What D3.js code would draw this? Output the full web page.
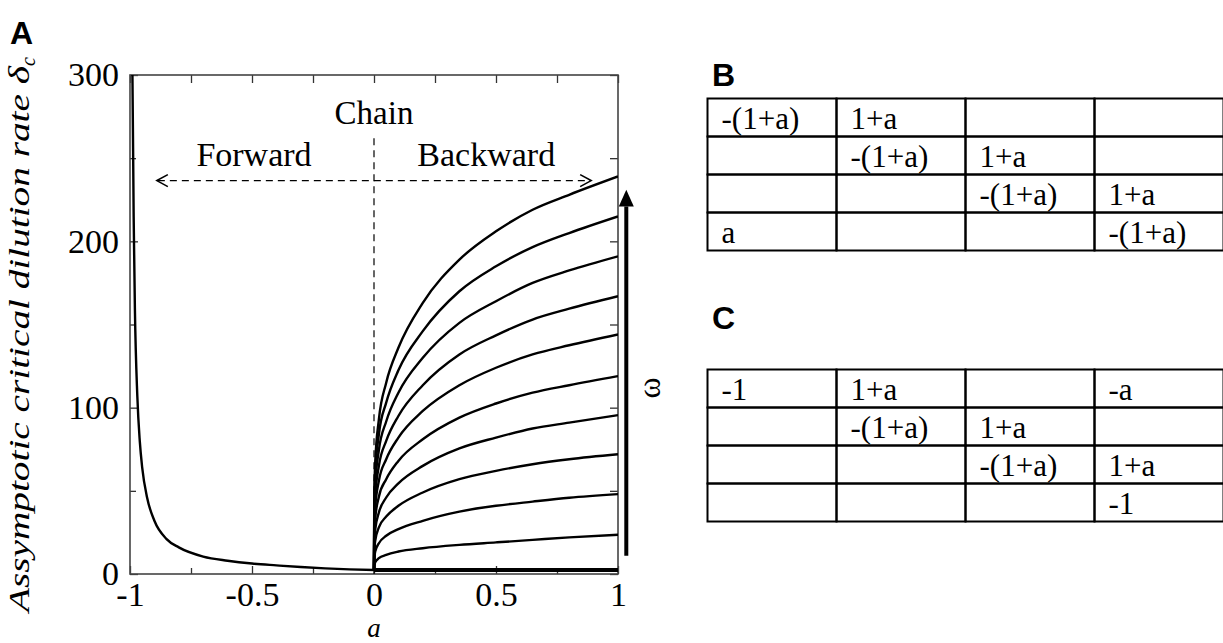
<!DOCTYPE html>
<html>
<head>
<meta charset="utf-8">
<script src="https://cdn.jsdelivr.net/npm/d3@7"></script>
<style>
  html, body { margin: 0; padding: 0; background: #fff; }
  svg { display: block; }
</style>
</head>
<body>
<svg id="fig" width="1223" height="643"></svg>
<script>
// Forward chain branch (a < 0)
const fwdA = [-0.995, -0.99, -0.985, -0.98, -0.97, -0.96, -0.95, -0.93, -0.9, -0.85, -0.8, -0.7, -0.6, -0.5, -0.4, -0.3, -0.2, -0.1, 0];
const fwdV = [330, 300, 215, 160, 107, 80, 64, 46, 32, 21, 16, 10.5, 8, 6.3, 5.2, 4.2, 3.4, 2.8, 2.4];

// Backward chain branch (a > 0), one curve per omega level
const backA = [0, 0.001, 0.005, 0.02, 0.05, 0.1, 0.2, 0.35, 0.5, 0.65, 0.8, 1.0];
const omega1  = [2, 5, 7, 9.5, 11.5, 13.5, 15.5, 17.5, 19, 20.5, 22, 23.6];
const omega2  = [2, 9, 13.5, 18.5, 23, 27, 32, 37.5, 41, 43.5, 45.8, 48];
const omega3  = [2, 13.7, 20, 28, 34.5, 41, 49, 57, 62, 66, 69, 72];
const omega4  = [2, 18, 26.7, 37, 46, 54.5, 65, 75.5, 82, 87.5, 91, 95.5];
const omega5  = [2, 22.6, 33.3, 46.5, 57, 68, 81, 94, 102.5, 109, 113.5, 119];
const omega6  = [2, 27.4, 40, 56, 69, 82, 98, 113.5, 124, 132, 137.5, 144];
const omega7  = [2, 31.7, 46.8, 65, 80, 95, 113.5, 132, 143.5, 153, 159.5, 167];
const omega8  = [2, 36.3, 53.5, 74.5, 91.7, 109, 130, 151, 164, 175, 182.5, 191];
const omega9  = [2, 40.8, 60, 84, 103, 122.5, 146, 170, 185, 196.5, 205, 215];
const omega10 = [2, 45, 67, 93, 115, 136, 163, 189, 206, 219, 228, 239];
const omegaSeries = [omega1, omega2, omega3, omega4, omega5, omega6, omega7, omega8, omega9, omega10];

// Lowest backward level
const baseA = [0, 1];
const baseV = [2.4, 2.4];

// Axis ticks
const xMajor = [-1, -0.5, 0, 0.5, 1];
const xMinor = [-0.75, -0.25, 0.25, 0.75];
const xLabels = ["-1", "-0.5", "0", "0.5", "1"];
const yMajor = [0, 100, 200, 300];
const yMinor = [50, 150, 250];
const yLabels = ["0", "100", "200", "300"];

// Jacobian tables
const tableB = [
  ["-(1+a)", "1+a", "", ""],
  ["", "-(1+a)", "1+a", ""],
  ["", "", "-(1+a)", "1+a"],
  ["a", "", "", "-(1+a)"]
];
const tableC = [
  ["-1", "1+a", "", "-a"],
  ["", "-(1+a)", "1+a", ""],
  ["", "", "-(1+a)", "1+a"],
  ["", "", "", "-1"]
];

const svg = d3.select("#fig");
const serif = "'Liberation Serif', 'Times New Roman', serif";
const sans = "'Liberation Sans', Arial, sans-serif";

const L = 130, R = 618, T = 75, B = 574;
const x = d3.scaleLinear().domain([-1, 1]).range([L, R]);
const y = d3.scaleLinear().domain([0, 300]).range([B, T]);

svg.append("defs").append("clipPath").attr("id", "plotclip")
  .append("rect").attr("x", L).attr("y", T).attr("width", R - L).attr("height", B - T);

// ---- axes: inward ticks on all four sides ----
function styleAxis(g) {
  g.select(".domain").remove();
  g.selectAll(".tick line").attr("stroke", "#333").attr("stroke-width", 1.3);
  g.selectAll("text").attr("font-family", serif).attr("font-size", 34).attr("fill", "#000");
}
const xBottom = svg.append("g").attr("transform", `translate(0,${B})`)
  .call(d3.axisBottom(x).tickValues(xMajor).tickSize(-8).tickPadding(8)
    .tickFormat((d, i) => xLabels[i]));
styleAxis(xBottom);
xBottom.selectAll("text").attr("dy", "0.71em");
svg.append("g").attr("transform", `translate(0,${B})`)
  .call(d3.axisBottom(x).tickValues(xMinor).tickSize(-6).tickFormat(""))
  .call(styleAxis);
svg.append("g").attr("transform", `translate(0,${T})`)
  .call(d3.axisTop(x).tickValues(xMajor.concat(xMinor)).tickSize(-8).tickFormat(""))
  .call(styleAxis);
const yLeft = svg.append("g").attr("transform", `translate(${L},0)`)
  .call(d3.axisLeft(y).tickValues(yMajor).tickSize(-8).tickPadding(11)
    .tickFormat((d, i) => yLabels[i]));
styleAxis(yLeft);
svg.append("g").attr("transform", `translate(${L},0)`)
  .call(d3.axisLeft(y).tickValues(yMinor).tickSize(-6).tickFormat(""))
  .call(styleAxis);
svg.append("g").attr("transform", `translate(${R},0)`)
  .call(d3.axisRight(y).tickValues(yMajor.concat(yMinor)).tickSize(-8).tickFormat(""))
  .call(styleAxis);

// frame
svg.append("rect").attr("x", L).attr("y", T).attr("width", R - L).attr("height", B - T)
  .attr("fill", "none").attr("stroke", "#444").attr("stroke-width", 1.6);

// ---- curves ----
const plot = svg.append("g").attr("clip-path", "url(#plotclip)");
const line = d3.line().x(d => x(d[0])).y(d => y(d[1])).curve(d3.curveMonotoneX);

plot.append("path").datum(fwdA.map((a, i) => [a, fwdV[i]]))
  .attr("d", line).attr("fill", "none").attr("stroke", "#000").attr("stroke-width", 2.4);

omegaSeries.forEach(vals => {
  plot.append("path").datum(backA.map((a, i) => [a, vals[i]]))
    .attr("d", line).attr("fill", "none").attr("stroke", "#000").attr("stroke-width", 2.4);
});

plot.append("path").datum(baseA.map((a, i) => [a, baseV[i]]))
  .attr("d", line).attr("fill", "none").attr("stroke", "#000").attr("stroke-width", 4);

// ---- annotations ----
// dividing dashed line at a = 0
svg.append("line").attr("x1", x(0)).attr("x2", x(0)).attr("y1", y(262)).attr("y2", y(0))
  .attr("stroke", "#000").attr("stroke-width", 1.2).attr("stroke-dasharray", "7,5");
// forward/backward double arrow
const arrY = y(236.5), ax0 = x(-0.89), ax1 = x(0.89);
svg.append("line").attr("x1", ax0 + 1).attr("x2", ax1 - 1).attr("y1", arrY).attr("y2", arrY)
  .attr("stroke", "#000").attr("stroke-width", 1.4).attr("stroke-dasharray", "7,5");
svg.append("path").attr("d", `M${ax0 + 11},${arrY - 6} L${ax0},${arrY} L${ax0 + 11},${arrY + 6}`)
  .attr("fill", "none").attr("stroke", "#000").attr("stroke-width", 1.6);
svg.append("path").attr("d", `M${ax1 - 11},${arrY - 6} L${ax1},${arrY} L${ax1 - 11},${arrY + 6}`)
  .attr("fill", "none").attr("stroke", "#000").attr("stroke-width", 1.6);

svg.append("text").attr("x", x(0)).attr("y", 124).attr("text-anchor", "middle")
  .attr("font-family", serif).attr("font-size", 33).text("Chain");
svg.append("text").attr("x", x(-0.5) + 2).attr("y", 166).attr("text-anchor", "middle")
  .attr("font-family", serif).attr("font-size", 34).text("Forward");
svg.append("text").attr("x", x(0.46)).attr("y", 166).attr("text-anchor", "middle")
  .attr("font-family", serif).attr("font-size", 34).text("Backward");

// omega arrow
const wx = x(1.034);
svg.append("line").attr("x1", wx).attr("x2", wx).attr("y1", y(11)).attr("y2", y(221))
  .attr("stroke", "#000").attr("stroke-width", 4);
svg.append("path").attr("d", `M${wx},${y(231)} L${wx - 7.5},${y(221)} L${wx + 7.5},${y(221)} Z`)
  .attr("fill", "#000");
svg.append("text").attr("transform", `translate(660,388) rotate(-90)`).attr("text-anchor", "middle")
  .attr("font-family", serif).attr("font-size", 32).text("ω");

// axis titles
svg.append("text").attr("x", x(0)).attr("y", 637).attr("text-anchor", "middle")
  .attr("font-family", serif).attr("font-style", "italic").attr("font-size", 27).text("a");
const yt = svg.append("text").attr("transform", "translate(29,612) rotate(-90)")
  .attr("font-family", serif).attr("font-style", "italic").attr("font-size", 30);
yt.append("tspan").attr("textLength", 546).attr("lengthAdjust", "spacingAndGlyphs")
  .text("Assymptotic critical dilution rate δ");
yt.append("tspan").attr("font-size", 20).attr("dy", 6).text("c");

// panel letters
[["A", 10, 44], ["B", 712, 86], ["C", 712, 329]].forEach(([t, px, py]) => {
  svg.append("text").attr("x", px).attr("y", py).attr("font-family", sans)
    .attr("font-weight", "bold").attr("font-size", 32).text(t);
});

// ---- tables ----
function drawTable(data, top) {
  const colX = [707.5, 836.5, 965.5, 1094.5, 1223.5];
  const rowH = 38;
  const g = svg.append("g");
  data.forEach((row, r) => {
    row.forEach((cell, c) => {
      g.append("rect").attr("x", colX[c]).attr("y", top + r * rowH)
        .attr("width", colX[c + 1] - colX[c]).attr("height", rowH)
        .attr("fill", "none").attr("stroke", "#000").attr("stroke-width", 2);
      if (cell) {
        g.append("text").attr("x", colX[c] + 14).attr("y", top + r * rowH + 30)
          .attr("font-family", serif).attr("font-size", 31).text(cell);
      }
    });
  });
}
drawTable(tableB, 98.5);
drawTable(tableC, 369.5);
</script>
</body>
</html>
